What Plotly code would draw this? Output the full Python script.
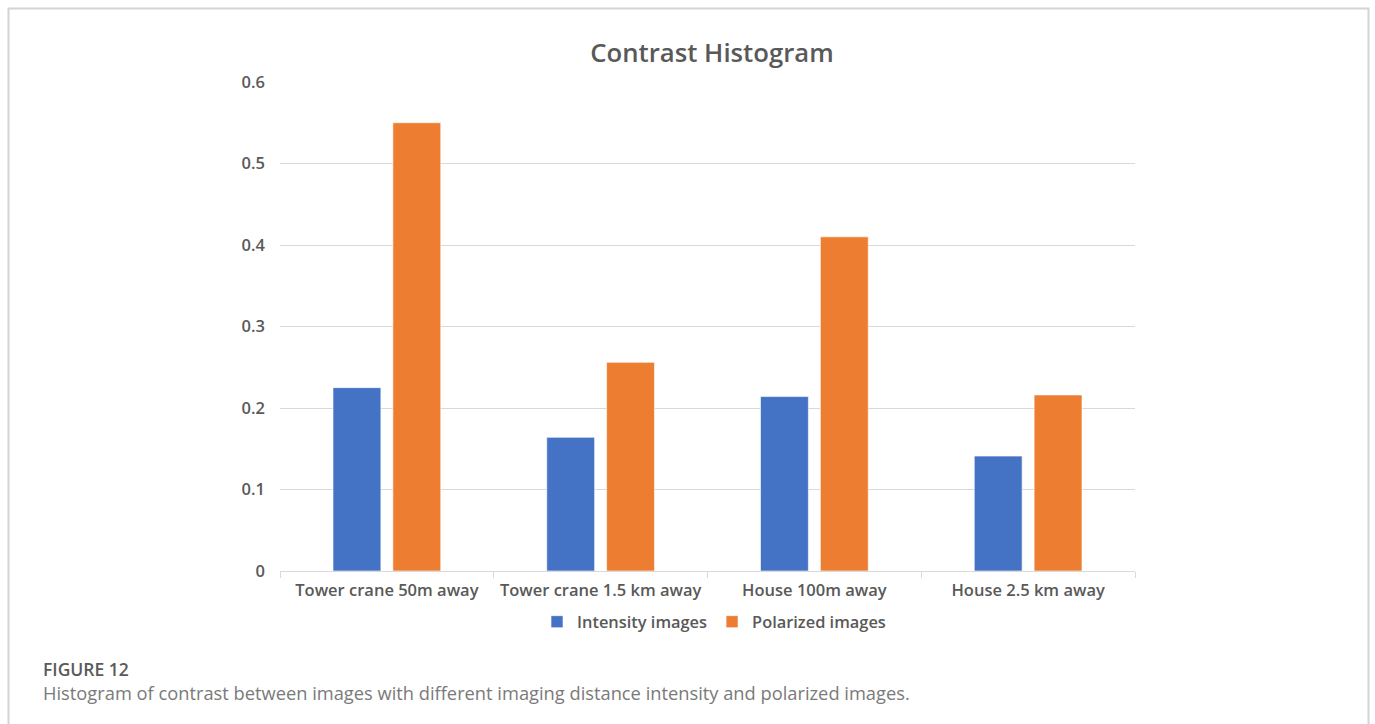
import plotly.graph_objects as go

# Data
categories = ["Tower crane 50m away", "Tower crane 1.5 km away", "House 100m away", "House 2.5 km away"]
intensity = [0.225, 0.164, 0.214, 0.141]
polarized = [0.550, 0.256, 0.410, 0.216]
y_ticks = [0, 0.1, 0.2, 0.3, 0.4, 0.5, 0.6]
y_tick_text = ["0", "0.1", "0.2", "0.3", "0.4", "0.5", "0.6"]

W, H = 1375, 724
L, R, T, B = 280, 1135, 82, 571  # plot area in pixels


def px(x):
    return (x - L) / (R - L)


def py(y):
    return (B - y) / (B - T)


TEXT = "#595959"
GRID = "#d9d9d9"
FONT = "Open Sans"

fig = go.Figure()
fig.add_trace(go.Bar(
    name="Intensity images", x=categories, y=intensity,
    marker=dict(color="#4472C4", line=dict(color="white", width=0.6)),
))
fig.add_trace(go.Bar(
    name="Polarized images", x=categories, y=polarized,
    marker=dict(color="#ED7D31", line=dict(color="white", width=0.6)),
))

fig.update_layout(
    width=W, height=H,
    margin=dict(l=L, r=W - R, t=T, b=H - B),
    paper_bgcolor="white", plot_bgcolor="white",
    barmode="group", bargap=0.44, bargroupgap=0.2,
    font=dict(family=FONT, color=TEXT),
    title=dict(
        text="Contrast Histogram",
        font=dict(family=FONT, size=25.7, color=TEXT, weight=600),
        xref="paper", x=px(712), xanchor="center",
        yref="container", y=1 - 53 / H, yanchor="middle",
    ),
    legend=dict(
        orientation="h", x=px(714), xanchor="center",
        y=py(622), yanchor="middle",
        font=dict(family=FONT, size=16.4, color=TEXT, weight=600),
        itemwidth=30, traceorder="normal",
    ),
    showlegend=True,
)

fig.update_xaxes(
    showline=True, linecolor=GRID, linewidth=1,
    ticks="outside", tickson="boundaries", ticklen=6, tickcolor=GRID,
    ticklabelstandoff=4,
    tickfont=dict(family=FONT, size=16.5, color=TEXT, weight=600),
    showgrid=False,
)
fig.update_yaxes(
    range=[0, 0.6], tickvals=y_ticks, ticktext=y_tick_text,
    showgrid=True, gridcolor=GRID, gridwidth=1,
    zeroline=False, showline=False, ticks="",
    ticklabelstandoff=14,
    tickfont=dict(family=FONT, size=16.5, color=TEXT, weight=600),
)

# Outer frame of the figure panel
fig.add_shape(
    type="rect", xref="paper", yref="paper",
    x0=px(8.5), x1=px(1368.5), y0=py(780), y1=py(8.5),
    line=dict(color="#d4d4d4", width=2), fillcolor="rgba(0,0,0,0)",
    layer="below",
)

# Caption
fig.add_annotation(
    text="FIGURE 12", xref="paper", yref="paper",
    x=px(41), y=py(669), xanchor="left", yanchor="middle",
    showarrow=False, font=dict(family="Open Sans", size=17.5, color="#5a5a5a", weight=600),
)
fig.add_annotation(
    text="Histogram of contrast between images with different imaging distance intensity and polarized images.",
    xref="paper", yref="paper",
    x=px(41), y=py(692), xanchor="left", yanchor="middle",
    showarrow=False, font=dict(family="Open Sans", size=18.3, color="#7a7a7a"),
)

fig.write_html("out.html")
